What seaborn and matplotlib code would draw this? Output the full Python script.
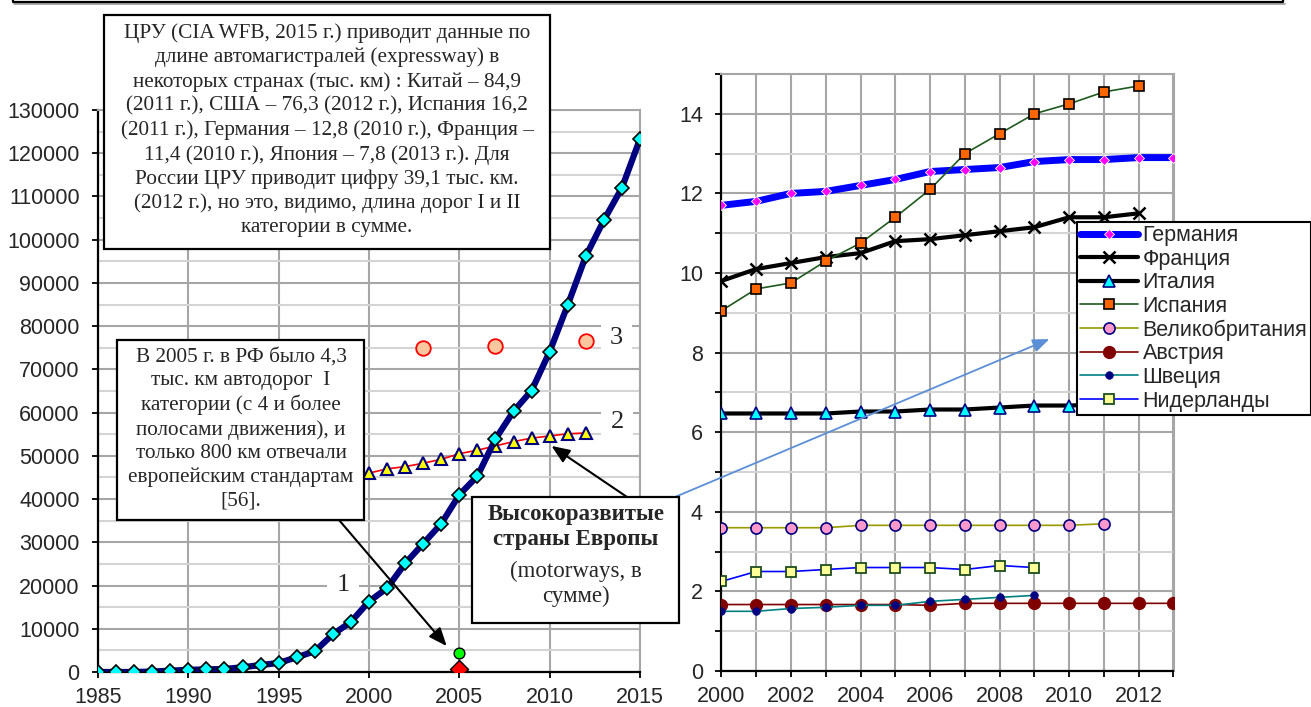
import matplotlib
matplotlib.use("Agg")
import matplotlib.pyplot as plt
from matplotlib.patches import Rectangle
from matplotlib.lines import Line2D
from matplotlib.ticker import MultipleLocator
import seaborn as sns

# ---- left panel: China expressways, Europe motorways (km) ----
china_years = list(range(1985, 2016))
china_km = [0, 0, 0, 100, 300, 500, 600, 700, 1100, 1600, 2100, 3400, 4800,
            8700, 11600, 16300, 19400, 25100, 29700, 34300, 41000, 45300,
            53900, 60300, 65100, 74100, 84900, 96200, 104500, 112000, 123300]

europe_years = list(range(2000, 2013))
europe_km = [46000, 47000, 47500, 48300, 49200, 50500, 51300, 52300, 53300,
             54100, 54600, 55100, 55300]

usa_years = [2003, 2007, 2012]
usa_km = [74900, 75400, 76600]

rf_year = [2005]
rf_cat1 = [4300]
rf_euro = [800]

# ---- right panel: motorways by country (thousand km) ----
years_all = list(range(2000, 2014))
germany = [11.7, 11.8, 12.0, 12.05, 12.2, 12.35, 12.55, 12.6, 12.65, 12.8,
           12.85, 12.85, 12.9, 12.9]
france = [9.8, 10.1, 10.25, 10.4, 10.5, 10.8, 10.85, 10.95, 11.05, 11.15,
          11.4, 11.4, 11.5]
italy = [6.47, 6.47, 6.47, 6.47, 6.52, 6.52, 6.57, 6.57, 6.62, 6.67, 6.67,
         6.7, 6.72]
spain = [9.05, 9.6, 9.75, 10.3, 10.75, 11.4, 12.1, 13.0, 13.5, 14.0, 14.25,
         14.55, 14.7]
uk = [3.6, 3.6, 3.6, 3.6, 3.66, 3.66, 3.66, 3.66, 3.66, 3.66, 3.66, 3.7]
austria = [1.67, 1.67, 1.67, 1.67, 1.67, 1.67, 1.65, 1.7, 1.7, 1.7, 1.7,
           1.7, 1.7, 1.7]
sweden = [1.5, 1.5, 1.57, 1.6, 1.65, 1.65, 1.75, 1.8, 1.85, 1.9]
netherlands = [2.25, 2.5, 2.5, 2.55, 2.6, 2.6, 2.6, 2.55, 2.65, 2.6]

sns.set_style("white")
plt.rcParams['font.family'] = ['Liberation Sans', 'DejaVu Sans']
SERIF = ['Liberation Serif', 'DejaVu Serif']

W, H = 1311, 707
fig = plt.figure(figsize=(W / 100, H / 100), dpi=100)

def fx(px):
    return px / W

def fy(py):
    return 1 - py / H

axL = fig.add_axes([fx(98), fy(672), (640 - 98) / W, (672 - 110) / H])
axR = fig.add_axes([fx(721.4), fy(671), (1173.5 - 721.4) / W, (671 - 74) / H])

# =========================
# Left chart
# =========================
sns.lineplot(x=china_years, y=china_km, ax=axL, color='#000080', linewidth=4.5,
             marker='D', markersize=7.5, markerfacecolor='#00FFFF',
             markeredgecolor='black', markeredgewidth=1.2, errorbar=None, zorder=4)
sns.lineplot(x=europe_years, y=europe_km, ax=axL, color='#FF0000', linewidth=1.2,
             marker='^', markersize=9, markerfacecolor='#FFFF00',
             markeredgecolor='#000080', markeredgewidth=1.5, errorbar=None, zorder=3)
sns.scatterplot(x=usa_years, y=usa_km, ax=axL, marker='o', s=110, color='#FBC79E',
                edgecolor='#FF0000', linewidth=1.3, zorder=3)
sns.scatterplot(x=rf_year, y=rf_cat1, ax=axL, marker='o', s=60, color='#00FF00',
                edgecolor='black', linewidth=1, zorder=4)
sns.scatterplot(x=rf_year, y=rf_euro, ax=axL, marker='D', s=85, color='#FF0000',
                edgecolor='black', linewidth=1, zorder=4)

axL.set_xlim(1985, 2015)
axL.set_ylim(0, 130000)
axL.xaxis.set_major_locator(MultipleLocator(5))
axL.yaxis.set_major_locator(MultipleLocator(10000))
axL.yaxis.set_minor_locator(MultipleLocator(5000))
axL.grid(which='major', color='#A6A6A6', linewidth=1.5)
axL.grid(which='minor', axis='y', color='#D4D4D4', linewidth=1.5)
axL.set_axisbelow(True)
for side in ['left', 'bottom']:
    axL.spines[side].set_color('black')
    axL.spines[side].set_linewidth(1.6)
for side in ['top', 'right']:
    axL.spines[side].set_color('#A6A6A6')
    axL.spines[side].set_linewidth(1.5)
axL.tick_params(which='major', direction='out', length=4.3, width=1.3,
                labelsize=15.5, color='black', left=True, bottom=True)
axL.tick_params(axis='y', pad=9)
axL.tick_params(axis='x', pad=6.5)
axL.tick_params(which='minor', left=False)

for txt, xv, yv in [('1', 1998.56, 20100), ('2', 2013.74, 57900), ('3', 2013.7, 77200)]:
    axL.text(xv, yv, txt, fontsize=19, family=SERIF, ha='center', va='center',
             zorder=6, bbox=dict(boxstyle='square,pad=0.35', fc='white', ec='none'))

# =========================
# Right chart
# =========================
right_series = [
    ('Германия', years_all, germany, dict(color='#0000FF', linewidth=5, marker='D',
        markersize=4.8, markerfacecolor='#FF00FF', markeredgecolor='white', markeredgewidth=0.6)),
    ('Франция', years_all[:13], france, dict(color='black', linewidth=3, marker='x',
        markersize=9, markerfacecolor='black', markeredgecolor='black', markeredgewidth=1.8)),
    ('Италия', years_all[:13], italy, dict(color='black', linewidth=3, marker='^',
        markersize=8.5, markerfacecolor='#00FFFF', markeredgecolor='#000080', markeredgewidth=1.2)),
    ('Испания', years_all[:13], spain, dict(color='#1F5A1F', linewidth=1.2, marker='s',
        markersize=7.5, markerfacecolor='#FF6600', markeredgecolor='black', markeredgewidth=1.2)),
    ('Великобритания', years_all[:12], uk, dict(color='#999900', linewidth=1.2, marker='o',
        markersize=8, markerfacecolor='#FF99CC', markeredgecolor='#000080', markeredgewidth=1.2)),
    ('Австрия', years_all, austria, dict(color='#800000', linewidth=1.2, marker='o',
        markersize=8.5, markerfacecolor='#800000', markeredgecolor='#800000', markeredgewidth=1)),
    ('Швеция', years_all[:10], sweden, dict(color='#008080', linewidth=1.2, marker='o',
        markersize=5.5, markerfacecolor='#000080', markeredgecolor='#000080', markeredgewidth=0.5)),
    ('Нидерланды', years_all[:10], netherlands, dict(color='#0000FF', linewidth=1.2, marker='s',
        markersize=7.5, markerfacecolor='#FFFF99', markeredgecolor='#1E4D1E', markeredgewidth=1.3)),
]
for name, xs, ys, style in right_series:
    sns.lineplot(x=xs, y=ys, ax=axR, label=name, errorbar=None, zorder=3, **style)

axR.set_xlim(2000, 2013)
axR.set_ylim(0, 15)
axR.xaxis.set_major_locator(MultipleLocator(2))
axR.xaxis.set_minor_locator(MultipleLocator(1))
axR.yaxis.set_major_locator(MultipleLocator(2))
axR.yaxis.set_minor_locator(MultipleLocator(1))
axR.grid(which='major', color='#A6A6A6', linewidth=1.5)
axR.grid(which='minor', axis='x', color='#A6A6A6', linewidth=1.5)
axR.grid(which='minor', axis='y', color='#D4D4D4', linewidth=1.5)
axR.set_axisbelow(True)
for side in ['left', 'bottom']:
    axR.spines[side].set_color('black')
    axR.spines[side].set_linewidth(1.6)
for side in ['top', 'right']:
    axR.spines[side].set_color('#A6A6A6')
    axR.spines[side].set_linewidth(1.5)
axR.tick_params(which='both', direction='out', length=4.3, width=1.3,
                labelsize=15.5, color='black', left=True, bottom=True)
axR.tick_params(axis='y', which='both', pad=9)
axR.tick_params(axis='x', which='both', pad=6.5)

leg = axR.legend(loc='upper left', bbox_to_anchor=(fx(1077), fy(222)),
                 bbox_transform=fig.transFigure, fontsize=15.5, frameon=True,
                 fancybox=False, framealpha=1, edgecolor='black',
                 borderpad=0.15, labelspacing=0.12, handlelength=2.7,
                 handletextpad=0.2, borderaxespad=0)
leg.get_frame().set_linewidth(1.5)
leg.set_zorder(8)

# =========================
# Text boxes and arrows
# =========================
boxes = [
    (104, 15, 550, 249),
    (117, 340, 364, 520),
    (472, 497, 679, 623),
]
for x0, y0, x1, y1 in boxes:
    fig.add_artist(Rectangle((fx(x0), fy(y1)), (x1 - x0) / W, (y1 - y0) / H,
                             transform=fig.transFigure, fc='white', ec='black',
                             lw=1.6, zorder=5))

cia_text = ("ЦРУ (CIA WFB, 2015 г.) приводит данные по\n"
            "длине автомагистралей (expressway) в\n"
            "некоторых странах (тыс. км) : Китай – 84,9\n"
            "(2011 г.), США – 76,3 (2012 г.), Испания 16,2\n"
            "(2011 г.), Германия – 12,8 (2010 г.), Франция –\n"
            "11,4 (2010 г.), Япония – 7,8 (2013 г.). Для\n"
            "России ЦРУ приводит цифру 39,1 тыс. км.\n"
            "(2012 г.), но это, видимо, длина дорог I и II\n"
            "категории в сумме.")
fig.text(fx(327), fy(130), cia_text, ha='center', va='center', multialignment='center',
         fontsize=15.3, family=SERIF, linespacing=1.32, zorder=6)

rf_text = ("В 2005 г. в РФ было 4,3\n"
           "тыс. км автодорог  I\n"
           "категории (с 4 и более\n"
           "полосами движения), и\n"
           "только 800 км отвечали\n"
           "европейским стандартам\n"
           "[56].")
fig.text(fx(241), fy(429), rf_text, ha='center', va='center', multialignment='center',
         fontsize=15.3, family=SERIF, linespacing=1.32, zorder=6)

fig.text(fx(576), fy(527), "Высокоразвитые\nстраны Европы", ha='center', va='center',
         multialignment='center', fontsize=16.5, fontweight='bold', family=SERIF,
         linespacing=1.2, zorder=6)
fig.text(fx(576), fy(584), "(motorways, в\nсумме)", ha='center', va='center',
         multialignment='center', fontsize=16.5, family=SERIF, linespacing=1.2, zorder=6)

arrow_kw = dict(arrowstyle='-|>,head_length=1.1,head_width=0.45', color='black', lw=1.5,
                shrinkA=0, shrinkB=0)
axL.annotate('', xy=(2010.1, 52300), xycoords='data',
             xytext=(627, H - 497), textcoords='figure pixels',
             arrowprops=arrow_kw, annotation_clip=False, zorder=7)
axL.annotate('', xy=(2004.3, 6000), xycoords='data',
             xytext=(339, H - 520), textcoords='figure pixels',
             arrowprops=arrow_kw, annotation_clip=False, zorder=7)
axR.annotate('', xy=(2009.43, 8.34), xycoords='data',
             xytext=(675, H - 497), textcoords='figure pixels',
             arrowprops=dict(arrowstyle='-|>,head_length=1.0,head_width=0.4',
                             color='#5B8FD6', lw=1.3, shrinkA=0, shrinkB=0),
             annotation_clip=False, zorder=9)

# frame remnant along the top edge
fig.add_artist(Line2D([fx(14), fx(1285)], [fy(4), fy(4)], transform=fig.transFigure,
                      color='#999999', lw=1.2, zorder=4))
fig.add_artist(Line2D([fx(13), fx(13), fx(1283), fx(1283)], [1, fy(2), fy(2), 1],
                      transform=fig.transFigure, color='black', lw=1.6, zorder=5))

fig.savefig("out.png", dpi=100)
